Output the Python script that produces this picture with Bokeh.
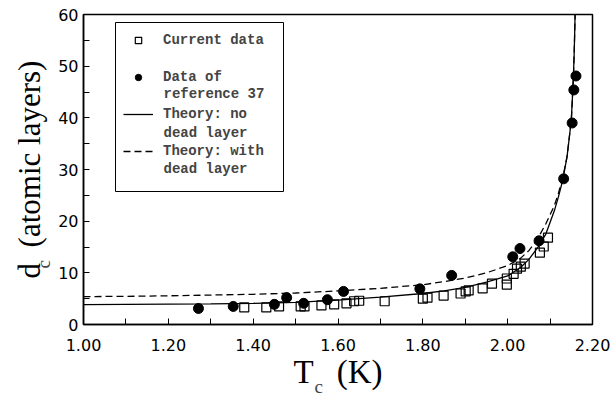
from bokeh.plotting import figure
from bokeh.models import Range1d, FixedTicker, Legend, LegendItem, Label, BoxAnnotation
from bokeh.embed import file_html
from bokeh.resources import INLINE

# Current data: critical thickness d_c (atomic layers) vs onset temperature T_c (K)
cur_T = [1.379, 1.431, 1.461, 1.512, 1.521, 1.561, 1.591, 1.620, 1.638, 1.650,
         1.710, 1.800, 1.811, 1.849, 1.889, 1.901, 1.908, 1.941, 1.963, 1.998,
         1.998, 2.014, 2.022, 2.031, 2.040, 2.076, 2.085, 2.095]
cur_d = [3.3, 3.3, 3.5, 3.5, 3.5, 3.7, 3.9, 4.1, 4.5, 4.6,
         4.5, 5.0, 5.2, 5.6, 6.0, 6.4, 6.6, 7.0, 7.9, 7.7,
         8.9, 9.8, 10.8, 11.2, 11.8, 13.9, 15.1, 16.8]

# Data of reference 37
ref_T = [1.271, 1.353, 1.450, 1.479, 1.519, 1.575, 1.613, 1.793, 1.868, 2.012,
         2.029, 2.074, 2.132, 2.152, 2.156, 2.161]
ref_d = [3.1, 3.5, 3.9, 5.2, 4.1, 4.8, 6.4, 6.9, 9.5, 13.1,
         14.7, 16.2, 28.2, 39.0, 45.4, 48.1]

# Theory curves
theory_T = [1.00, 1.10, 1.20, 1.30, 1.40, 1.50, 1.60, 1.70, 1.80, 1.85, 1.90, 1.95,
            2.00, 2.03, 2.05, 2.07, 2.09, 2.11, 2.12, 2.13, 2.14, 2.145, 2.15,
            2.153, 2.155, 2.157, 2.159]
theory_plain = [3.85, 3.9, 3.95, 4.0, 4.1, 4.3, 4.7, 5.3, 6.0, 6.5, 7.2, 8.2,
                9.4, 11.0, 12.6, 14.8, 17.5, 22.0, 24.8, 28.0, 32.5, 36.0, 39.5,
                44.5, 48.0, 53.0, 60.0]
theory_dead = [5.4, 5.45, 5.55, 5.7, 5.85, 6.1, 6.5, 7.0, 7.7, 8.3, 9.0, 10.0,
               11.4, 12.8, 14.3, 16.5, 19.5, 23.0, 25.5, 28.5, 32.5, 36.0, 39.5,
               44.5, 48.0, 53.0, 60.0]

x_ticks = [1.0, 1.2, 1.4, 1.6, 1.8, 2.0, 2.2]
x_tick_labels = ["1.00", "1.20", "1.40", "1.60", "1.80", "2.00", "2.20"]
x_minor = [1.1, 1.3, 1.5, 1.7, 1.9, 2.1]
y_ticks = [0, 10, 20, 30, 40, 50, 60]
y_minor = [5, 15, 25, 35, 45, 55]

SERIF = "Liberation Serif"
MONO = "Liberation Mono"

p = figure(width=613, height=398, x_range=Range1d(1.0, 2.2), y_range=Range1d(0, 60),
           output_backend="svg", toolbar_location=None,
           min_border_left=83, min_border_right=21, min_border_top=14, min_border_bottom=74)
p.xgrid.visible = False
p.ygrid.visible = False
p.outline_line_color = "black"
p.outline_line_width = 1.5
p.background_fill_color = "white"
p.border_fill_color = "white"

p.xaxis.ticker = FixedTicker(ticks=x_ticks, minor_ticks=x_minor)
p.xaxis.major_label_overrides = {t: s for t, s in zip(x_ticks, x_tick_labels)}
p.yaxis.ticker = FixedTicker(ticks=y_ticks, minor_ticks=y_minor)

for ax in (p.xaxis[0], p.yaxis[0]):
    ax.axis_line_color = "black"
    ax.axis_line_width = 1.5
    ax.major_tick_in = 6
    ax.major_tick_out = 0
    ax.minor_tick_in = 6
    ax.minor_tick_out = 0
    ax.major_tick_line_color = "black"
    ax.minor_tick_line_color = "black"
    ax.major_label_text_font = "DejaVu Sans"
    ax.major_label_text_font_size = "16px"
    ax.major_label_text_color = "black"
    ax.axis_label_text_font = SERIF
    ax.axis_label_text_font_style = "normal"
    ax.axis_label_text_color = "black"
p.xaxis.major_label_standoff = 14
p.yaxis.major_label_standoff = 5

# axis titles; the subscript "c" of each is set as a separate small label
p.xaxis.axis_label = "T\u2002\u2009(K)"
p.xaxis.axis_label_text_font_size = "33px"
p.xaxis.axis_label_standoff = 0
p.yaxis.axis_label = "d\u2002(atomic layers)"
p.yaxis.axis_label_text_font_size = "31px"
p.yaxis.axis_label_standoff = 8

r_plain = p.line(theory_T, theory_plain, line_color="black", line_width=1.3)
r_dead = p.line(theory_T, theory_dead, line_color="black", line_width=1.3, line_dash="7 4")
r_cur = p.scatter(cur_T, cur_d, marker="square", size=9, fill_color=None,
                  line_color="black", line_width=1.2)
r_ref = p.scatter(ref_T, ref_d, marker="circle", size=10, fill_color="black",
                  line_color="black")

# legend frame
p.add_layout(BoxAnnotation(left=32, right=200, top=302, bottom=133,
                           left_units="screen", right_units="screen",
                           top_units="screen", bottom_units="screen",
                           fill_color="white", fill_alpha=1,
                           line_color="black", line_width=1, line_alpha=1))

legend = Legend(items=[
    LegendItem(label="Current data", renderers=[r_cur]),
    LegendItem(label="Data of", renderers=[r_ref]),
    LegendItem(label="Theory: no", renderers=[r_plain]),
    LegendItem(label="Theory: with", renderers=[r_dead]),
], location=(40, 165))
legend.border_line_color = None
legend.background_fill_alpha = 0
legend.padding = 8
legend.spacing = 21
legend.margin = 0
legend.label_standoff = 10
legend.glyph_width = 30
legend.glyph_height = 16
legend.label_height = 16
legend.label_text_font = MONO
legend.label_text_font_style = "bold"
legend.label_text_font_size = "14px"
p.add_layout(legend)

# second lines of the legend entries
for txt, ly in (("reference 37", 231), ("dead layer", 192), ("dead layer", 156)):
    p.add_layout(Label(x=80, y=ly, x_units="screen", y_units="screen", text=txt,
                       text_font=MONO, text_font_style="bold", text_font_size="14px",
                       text_baseline="middle"))

# subscripts
p.add_layout(Label(x=-278, y=-62, x_units="screen", y_units="screen", text="c",
                   text_font=SERIF, text_font_size="19px", text_baseline="alphabetic"),
             "right")
p.add_layout(Label(x=-40, y=-254, x_units="screen", y_units="screen", text="c",
                   angle=1.5708, text_font=SERIF, text_font_size="19px",
                   text_baseline="alphabetic"),
             "above")

open("out.html", "w").write(file_html(p, INLINE))
